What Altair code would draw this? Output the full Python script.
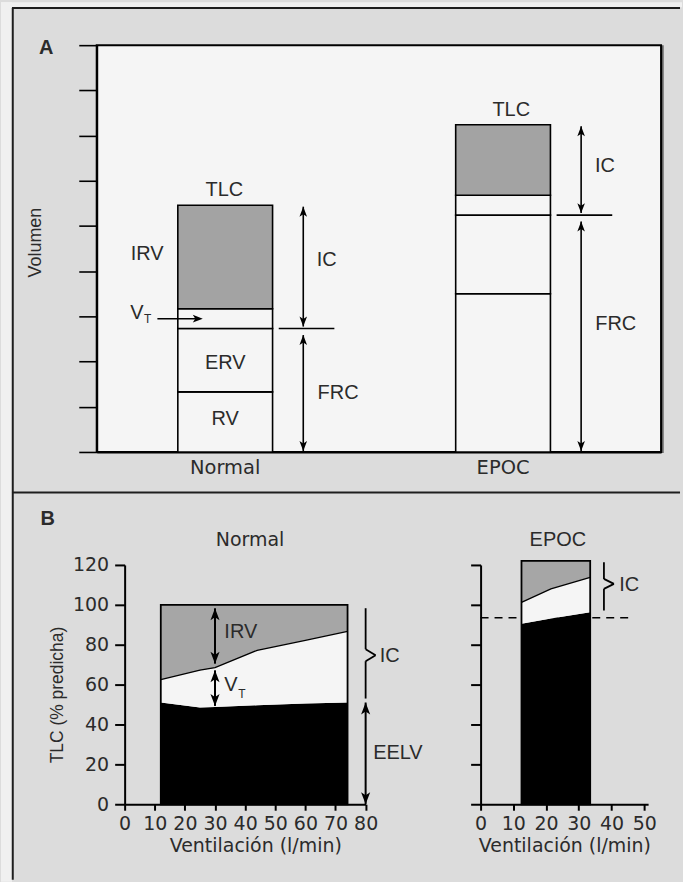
import altair as alt
import pandas as pd

# ---------------- data ----------------
# Panel A: static lung volumes, stacked from the bottom (RV, ERV, VT, IRV)
categories = ["Normal", "EPOC"]
segments = ["RV", "ERV", "VT", "IRV"]
normal_volumes = [1.33, 1.40, 0.44, 2.29]
epoc_volumes = [3.50, 1.74, 0.44, 1.56]
volume_ticks = list(range(0, 10))

# Panel B: operating lung volumes during exercise (% of predicted TLC)
vent_normal = [12, 25, 30, 44, 60, 74]
eelv_normal = [51.0, 48.5, 48.8, 49.6, 50.5, 51.0]
eilv_normal = [62.5, 67.2, 68.5, 77.2, 82.2, 86.7]
tlc_normal = 100.0

vent_epoc = [12.5, 21.5, 33.5]
eelv_epoc = [90.5, 93.2, 96.3]
eilv_epoc = [101.2, 108.0, 113.8]
tlc_epoc = 122.0
eelv_rest_epoc = 93.5

tlc_ticks = list(range(0, 121, 20))
normal_vent_ticks = list(range(0, 81, 10))
epoc_vent_ticks = list(range(0, 51, 10))

# ---------------- style ----------------
CAPS = "Liberation Sans"
BODY = "DejaVu Sans"
INK = "#2b2b2b"
PANEL = "#dcdcdc"
PLOT = "#f5f5f5"
MARGIN = "#f0f0f0"
GREY_A = "#a3a3a3"
GREY_B = "#a6a6a6"

UP = "M0,0L0.38,1L0,0.75L-0.38,1Z"
DOWN = "M0,0L0.38,-1L0,-0.75L-0.38,-1Z"
RIGHT = "M0,0L-1,0.38L-0.75,0L-1,-0.38Z"

WA, HA = 566, 408             # panel A plot area
WN, WE, HB = 241.7, 168, 240  # panel B plot areas
OX, OY = 96, 43               # panel A origin on the page

ONE = pd.DataFrame({"k": [0]})


def text_at(txt, x, y, size=20, font=CAPS, weight="normal", align="center"):
    """Free-standing text placed in pixels of the owning view."""
    return alt.Chart(ONE).mark_text(
        text=txt, font=font, fontSize=size, fontWeight=weight, color=INK,
        align=align, baseline="middle",
    ).encode(x=alt.value(x), y=alt.value(y))


# ================= Panel A =================
rows = []
for cat, vols in zip(categories, [normal_volumes, epoc_volumes]):
    base = 0.0
    for seg, v in zip(segments, vols):
        rows.append({"cat": cat, "seg": seg, "lo": base, "hi": base + v,
                     "mid": base + v / 2})
        base += v
bars = pd.DataFrame(rows)

lv = pd.DataFrame({
    "cat": categories,
    "frc": [sum(v[:2]) for v in (normal_volumes, epoc_volumes)],
    "tlc": [sum(v) for v in (normal_volumes, epoc_volumes)],
    "zero": [0.0, 0.0],
})


def seg_mid(cat, seg):
    return float(bars[(bars.cat == cat) & (bars.seg == seg)]["mid"].iloc[0])


xa = alt.Scale(type="band", domain=categories, paddingInner=0.659,
               paddingOuter=0.345, align=0.423)
ya = alt.Scale(domain=[0, 9], nice=False)

# every layer of a panel carries the same axis definitions so they merge cleanly
AXIS_AX = alt.Axis(title=None, ticks=False, tickSize=0, labelAngle=0, labelFont=BODY,
                   labelFontSize=19.5, labelColor=INK, labelPadding=7,
                   domainColor="black", domainWidth=2)
AXIS_AY = alt.Axis(values=volume_ticks, labels=False, tickSize=18, tickColor="black",
                   tickWidth=1.6, domainColor="black", domainWidth=2, grid=False,
                   title="Volumen", titleFont=CAPS, titleFontSize=18,
                   titleFontWeight="normal", titleColor=INK, titleAngle=270,
                   titleX=-61, titleY=197.5, titleBaseline="middle", titleAlign="center")


def XA():
    return alt.X("cat:N", scale=xa, axis=AXIS_AX)


def YA(f):
    return alt.Y(f"{f}:Q", scale=ya, axis=AXIS_AY)


bar_layer = alt.Chart(bars).mark_bar(stroke="black", strokeWidth=1.6, orient="vertical").encode(
    x=XA(), y=YA("lo"), y2="hi:Q",
    fill=alt.Fill("seg:N", scale=alt.Scale(domain=segments,
                  range=[PLOT, PLOT, PLOT, GREY_A]), legend=None),
)

AX = 78.3  # arrows sit to the right of each bar


def a_rule(field, field2, yo=0, y2o=0):
    return alt.Chart(lv).mark_rule(color="black", strokeWidth=1.6, xOffset=AX,
                                   yOffset=yo, y2Offset=y2o).encode(
        x=XA(), y=YA(field), y2=f"{field2}:Q")


def a_head(field, shape, yo=0, df=lv, xo=AX):
    return alt.Chart(df).mark_point(shape=shape, filled=True, size=400, opacity=1,
                                    strokeWidth=0, color="black",
                                    xOffset=xo, yOffset=yo).encode(x=XA(), y=YA(field))


a_arrows = [
    a_rule("tlc", "frc", 1.5, -2), a_head("tlc", UP, 1.5), a_head("frc", DOWN, -2),
    a_rule("frc", "zero", 6.5, -1), a_head("frc", UP, 6.5), a_head("zero", DOWN, -1),
    alt.Chart(lv).mark_tick(orient="horizontal", size=55.8, thickness=1.6,
                            color="black", opacity=1, xOffset=81.6).encode(x=XA(), y=YA("frc")),
]

vt_df = pd.DataFrame({"cat": ["Normal"], "vt": [seg_mid("Normal", "VT")]})
a_arrows += [
    alt.Chart(vt_df).mark_tick(orient="horizontal", size=42, thickness=1.5,
                               color="black", opacity=1, xOffset=-47).encode(x=XA(), y=YA("vt")),
    a_head("vt", RIGHT, 0, df=vt_df, xo=-22.5),
]


def a_label(txt, cat, value, dx=0, dy=0, size=20):
    df = pd.DataFrame({"cat": [cat], "v": [value]})
    return alt.Chart(df).mark_text(text=txt, font=CAPS, fontSize=size, color=INK,
                                   align="center", baseline="middle",
                                   dx=dx, dy=dy).encode(x=XA(), y=YA("v"))


tlc_n, tlc_e = lv.tlc.tolist()
frc_n, frc_e = lv.frc.tolist()
a_labels = [
    a_label("TLC", "Normal", tlc_n, -0.8, -15.5),
    a_label("TLC", "EPOC", tlc_e, 8.2, -15.2),
    a_label("IRV", "Normal", seg_mid("Normal", "IRV"), -78.2, -2.6),
    a_label("IC", "Normal", (frc_n + tlc_n) / 2, 101.9, -7),
    a_label("FRC", "Normal", frc_n / 2, 113.2, 3),
    a_label("ERV", "Normal", seg_mid("Normal", "ERV"), 0, 2.4),
    a_label("RV", "Normal", seg_mid("Normal", "RV"), 0, -3.1),
    a_label("V", "Normal", seg_mid("Normal", "VT"), -88.5, -5.2),
    a_label("T", "Normal", seg_mid("Normal", "VT"), -77.8, 0.5, size=12),
    a_label("IC", "EPOC", (frc_e + tlc_e) / 2, 102.1, -3.7),
    a_label("FRC", "EPOC", frc_e / 2, 113, -9.4),
]

# page frame drawn from panel A's coordinate system
frame = [
    alt.Chart(ONE).mark_rect(color=MARGIN).encode(
        x=alt.value(-OX), x2=alt.value(683 - OX), y=alt.value(-OY), y2=alt.value(5 - OY)),
    alt.Chart(ONE).mark_rect(color=MARGIN).encode(
        x=alt.value(-OX), x2=alt.value(11 - OX), y=alt.value(-OY), y2=alt.value(882 - OY)),
    alt.Chart(ONE).mark_rule(color="#1e1e1e", strokeWidth=2).encode(
        x=alt.value(11 - OX), x2=alt.value(681 - OX), y=alt.value(5.8 - OY), y2=alt.value(5.8 - OY)),
    alt.Chart(ONE).mark_rule(color="#1e1e1e", strokeWidth=2).encode(
        x=alt.value(11.8 - OX), x2=alt.value(11.8 - OX), y=alt.value(5.8 - OY), y2=alt.value(880 - OY)),
    alt.Chart(ONE).mark_rule(color="#1e1e1e", strokeWidth=2).encode(
        x=alt.value(11 - OX), x2=alt.value(681 - OX), y=alt.value(491.7 - OY), y2=alt.value(491.7 - OY)),
    # slightly heavier right edge of the volume plot
    alt.Chart(ONE).mark_rule(color="#555555", strokeWidth=1.5).encode(
        x=alt.value(WA + 1.8), x2=alt.value(WA + 1.8), y=alt.value(0), y2=alt.value(HA + 1)),
    text_at("A", 45.3 - OX, 45 - OY + 1.1, size=20, weight="bold"),
    text_at("B", 46.8 - OX, 517.3 - OY + 1.1, size=20, weight="bold"),
]

panel_a = alt.layer(bar_layer, *frame, *a_arrows, *a_labels).properties(
    width=WA, height=HA,
    view=alt.ViewBackground(fill=PLOT, stroke="black", strokeWidth=2),
)

# ================= Panel B =================
yb = alt.Scale(domain=[0, 120], nice=False)


def x_axis(ticks, title_x):
    return alt.Axis(values=ticks, tickSize=6, tickWidth=2, tickColor="black",
                    domainColor="black", domainWidth=2, labelFont=BODY, labelFontSize=19,
                    labelColor=INK, labelPadding=4.6, labelAngle=0, labelFlush=False,
                    labelOverlap=False, grid=False, title="Ventilación (l/min)",
                    titleFont=BODY, titleFontSize=19, titleFontWeight="normal",
                    titleColor=INK, titleX=title_x, titleY=41, titleAlign="center",
                    titleBaseline="middle")


AXIS_NY = alt.Axis(values=tlc_ticks, tickSize=10, tickWidth=2, tickColor="black",
                   domainColor="black", domainWidth=2, labelFont=BODY, labelFontSize=19,
                   labelColor=INK, labelPadding=6, labelOverlap=False, labelFlush=False,
                   grid=False, title="TLC (% predicha)", titleFont=CAPS, titleFontSize=17.5,
                   titleFontWeight="normal", titleColor=INK, titleAngle=270,
                   titleX=-67, titleY=130, titleBaseline="middle", titleAlign="center")
AXIS_EY = alt.Axis(values=tlc_ticks, tickSize=10, tickWidth=2, tickColor="black",
                   domainColor="black", domainWidth=2, labels=False, grid=False, title=None)


class BPanel:
    """Shared scales and axes for one exercise panel."""

    def __init__(self, xscale, xaxis, yaxis):
        self.xs, self.xax, self.yax = xscale, xaxis, yaxis

    def X(self, f):
        return alt.X(f"{f}:Q", scale=self.xs, axis=self.xax)

    def Y(self, f):
        return alt.Y(f"{f}:Q", scale=yb, axis=self.yax)

    def volumes(self, vent, eelv, eilv, tlc):
        df = pd.DataFrame({"vent": vent, "eelv": eelv, "eilv": eilv})
        df["tlc"] = tlc
        df["zero"] = 0.0
        black = alt.Chart(df).mark_area(color="black", orient="vertical").encode(
            x=self.X("vent"), y=self.Y("eelv"), y2="zero:Q")
        white = alt.Chart(df).mark_area(color=PLOT, orient="vertical").encode(
            x=self.X("vent"), y=self.Y("eilv"), y2="eelv:Q")
        grey = alt.Chart(df).mark_area(color=GREY_B, orient="vertical").encode(
            x=self.X("vent"), y=self.Y("tlc"), y2="eilv:Q")
        edge = alt.Chart(df).mark_line(color="black", strokeWidth=1.3).encode(
            x=self.X("vent"), y=self.Y("eilv"))
        box_df = pd.DataFrame({"x0": [vent[0]], "x1": [vent[-1]], "top": [tlc], "zero": [0.0]})
        box = alt.Chart(box_df).mark_rect(fillOpacity=0, stroke="black", strokeWidth=1.8).encode(
            x=self.X("x0"), x2="x1:Q", y=self.Y("zero"), y2="top:Q")
        return [black, white, grey, edge, box]

    def rule(self, x, y, y2, yo=0, y2o=0, x2o=0, x2=None, dash=None, width=2):
        df = pd.DataFrame({"x": [x], "x2": [x if x2 is None else x2], "y": [y], "y2": [y2]})
        kw = dict(color="black", strokeWidth=width, yOffset=yo, y2Offset=y2o, x2Offset=x2o)
        if dash:
            kw["strokeDash"] = dash
        return alt.Chart(df).mark_rule(**kw).encode(
            x=self.X("x"), x2="x2:Q", y=self.Y("y"), y2="y2:Q")

    def head(self, x, y, shape, yo=0):
        df = pd.DataFrame({"x": [x], "y": [y]})
        return alt.Chart(df).mark_point(shape=shape, filled=True, size=576, opacity=1,
                                        strokeWidth=0, color="black", yOffset=yo).encode(
            x=self.X("x"), y=self.Y("y"))

    def arrow(self, x, top, bottom, yo_top=0, yo_bot=0):
        return [self.rule(x, top, bottom, yo_top, yo_bot),
                self.head(x, top, UP, yo_top), self.head(x, bottom, DOWN, yo_bot)]

    def brace(self, x, top, bottom, yo_top, yo_bot, yo_mid, half):
        mid = (top + bottom) / 2
        return [
            self.rule(x, top, mid, yo_top, yo_mid - half, width=1.8),
            self.rule(x, mid, mid, yo_mid - half, yo_mid, x2o=10, width=1.8),
            self.rule(x, mid, mid, yo_mid + half, yo_mid, x2o=10, width=1.8),
            self.rule(x, mid, bottom, yo_mid + half, yo_bot, width=1.8),
        ]

    def label(self, txt, x, y, size=20, align="left", font=CAPS):
        df = pd.DataFrame({"x": [x], "y": [y]})
        return alt.Chart(df).mark_text(text=txt, font=font, fontSize=size, color=INK,
                                       align=align, baseline="middle").encode(
            x=self.X("x"), y=self.Y("y"))


# ---- Normal ----
bn = BPanel(alt.Scale(domain=[0, 80], nice=False), x_axis(normal_vent_ticks, 131), AXIS_NY)
i30 = vent_normal.index(30)
normal_layers = bn.volumes(vent_normal, eelv_normal, eilv_normal, tlc_normal)
normal_layers += bn.arrow(30, tlc_normal, eilv_normal[i30], 3.5, -4)
normal_layers += bn.arrow(30, eilv_normal[i30], eelv_normal[i30], 2.7, -1)
normal_layers += bn.arrow(80, eelv_normal[-1], 0, 0, 0)
normal_layers += bn.brace(80, tlc_normal, eelv_normal[-1], 3.4, -4, 1.5, 6)
normal_layers += [
    bn.label("IRV", 33.1, 86.6),
    bn.label("V", 33.1, 59.6),
    bn.label("T", 38.96, 55.45, size=12, align="center"),
    bn.label("IC", 84.7, 74.1),
    bn.label("EELV", 82.5, 25.75),
    text_at("Normal", 125.8, -24.9, size=19, font=BODY),
]
panel_normal = alt.layer(*normal_layers).properties(width=WN, height=HB)

# ---- EPOC ----
be = BPanel(alt.Scale(domain=[0, 51.2], nice=False), x_axis(epoc_vent_ticks, 84), AXIS_EY)
# resting end-expiratory level, drawn beneath the volume column
epoc_layers = [be.rule(0, eelv_rest_epoc, eelv_rest_epoc, x2=45.6, dash=[8, 6], width=1.5)]
epoc_layers += be.volumes(vent_epoc, eelv_epoc, eilv_epoc, tlc_epoc)
epoc_layers += be.brace(37.7, tlc_epoc, eelv_epoc[-1], 1.4, -1.7, -2.7, 5)
epoc_layers += [
    be.label("IC", 42.4, 110.0),
    text_at("EPOC", 77.5, -24.9, size=20, font=CAPS),
]
panel_epoc = alt.layer(*epoc_layers).properties(width=WE, height=HB)


def spacer(w):
    return alt.Chart(ONE).mark_point(opacity=0, size=1).encode(
        x=alt.X("k:Q", axis=None), y=alt.Y("k:Q", axis=None)).properties(width=w, height=HB)


row_b = alt.hconcat(spacer(124 - OX), panel_normal, spacer(480 - 124 - WN), panel_epoc,
                    spacing=0, bounds="flush")

chart = alt.vconcat(panel_a, row_b, spacing=564.3 - OY - HA, bounds="flush").properties(
    background=PANEL, padding=0,
).configure_view(stroke=None)

chart.save("out.html", embed_options={"renderer": "svg", "actions": False})
